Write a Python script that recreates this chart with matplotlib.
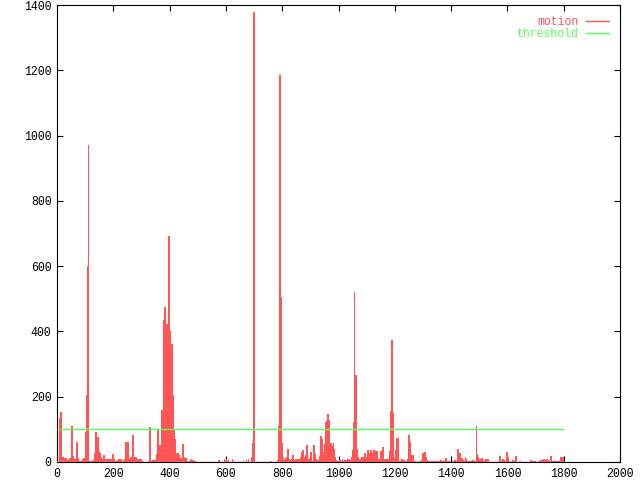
import matplotlib
matplotlib.use("Agg")
import matplotlib.pyplot as plt
from matplotlib.lines import Line2D

# motion values per frame
frames = [0, 11, 14, 18, 21, 25, 28, 32, 36, 39, 43, 46, 50, 53, 57, 60, 64, 68, 71, 75,
          78, 82, 85, 89, 92, 96, 100, 103, 107, 110, 113, 117, 121, 124, 128, 131, 135, 139,
          142, 146, 149, 153, 156, 160, 163, 167, 171, 174, 178, 181, 185, 188, 192, 195,
          199, 203, 206, 210, 213, 217, 220, 224, 227, 231, 235, 238, 242, 245, 249, 252,
          256, 259, 263, 266, 270, 274, 277, 281, 284, 288, 291, 295, 298, 302,
          330, 334, 337, 341, 348, 352, 355,
          359, 362, 366, 370, 373, 377, 380, 384, 387, 391, 394, 398, 401, 405, 409, 412,
          416, 419, 423, 426, 430, 433, 437, 441, 444, 448, 451, 455, 458,
          462, 472, 476, 479, 483, 487, 490,
          576, 594, 597, 601, 604, 608, 623, 627, 662, 673, 680, 690, 694, 697, 700,
          760, 785, 788, 792, 796, 799, 803, 806, 810, 813, 817, 821, 824, 828, 831, 835,
          838, 842, 845, 849, 852, 856, 860, 863, 867, 870, 874, 877, 881, 884, 888, 891,
          895, 899, 902, 906, 910, 913, 917, 920, 924, 927, 931, 934, 938, 942, 945, 949,
          952, 956, 959, 963, 966, 970, 973, 977, 981, 984, 988, 991, 995, 998,
          1005, 1009, 1013, 1016, 1020, 1023, 1027, 1030, 1034, 1037, 1041, 1044, 1048,
          1051, 1055, 1058, 1062, 1066, 1069, 1073, 1076, 1080, 1083, 1087, 1090, 1094,
          1098, 1101, 1105, 1108, 1112, 1115, 1119, 1122, 1126, 1130, 1133, 1137, 1140,
          1144, 1148, 1151, 1155, 1158, 1162, 1165, 1169, 1173, 1176, 1180, 1183, 1187,
          1190, 1194, 1197, 1204, 1208, 1212, 1215, 1222, 1226, 1229, 1233, 1236, 1240,
          1247, 1250, 1254, 1258, 1261, 1265, 1269, 1272, 1290, 1297, 1300, 1304, 1307,
          1311, 1314, 1318, 1325, 1332, 1339, 1346, 1354, 1361, 1364, 1371, 1375, 1382,
          1386, 1390, 1393, 1407, 1414, 1418, 1421, 1425, 1429, 1432, 1435, 1439, 1442,
          1446, 1450, 1453, 1457, 1464, 1471, 1478, 1481, 1485, 1489, 1492, 1496, 1499,
          1503, 1506, 1510, 1513, 1517, 1520, 1524, 1527, 1531, 1574, 1577, 1581, 1584,
          1588, 1591, 1595, 1599, 1602, 1606, 1620, 1627, 1631, 1645, 1684, 1688, 1691,
          1694, 1698, 1701, 1712, 1719, 1723, 1730, 1734, 1737, 1741, 1744, 1751, 1755,
          1758, 1762, 1765, 1769, 1773, 1780, 1783, 1787, 1790, 1794, 1797, 1801]
motion = [4, 134, 153, 16, 16, 12, 12, 12, 6, 6, 6, 12, 6, 110, 18, 8, 8, 8, 61, 12,
          4, 4, 4, 4, 8, 12, 26, 92, 205, 600, 970, 4, 4, 4, 4, 6, 29, 92,
          71, 78, 33, 27, 14, 4, 8, 22, 4, 8, 6, 10, 4, 8, 10, 6,
          24, 8, 4, 4, 4, 6, 10, 4, 10, 4, 4, 6, 8, 62, 62, 62,
          8, 4, 14, 8, 84, 16, 8, 14, 10, 4, 8, 4, 10, 4,
          108, 4, 4, 6, 6, 4, 26,
          100, 52, 52, 96, 159, 150, 435, 474, 337, 423, 230, 693, 402, 240, 361, 205,
          98, 69, 27, 24, 29, 20, 12, 8, 12, 55, 16, 6, 12,
          4, 4, 6, 8, 6, 4, 4,
          6, 8, 6, 10, 4, 6, 10, 4, 4, 6, 10, 16, 57, 250, 1380,
          4, 6, 110, 1185, 505, 59, 14, 6, 4, 12, 16, 40, 10, 4, 6, 10,
          21, 6, 4, 8, 10, 8, 6, 10, 14, 31, 37, 14, 6, 22, 51, 14,
          8, 12, 31, 4, 12, 53, 24, 10, 4, 6, 6, 18, 80, 71, 14, 31,
          55, 123, 126, 147, 130, 47, 59, 49, 59, 41, 14, 6, 4, 2,
          6, 4, 8, 4, 2, 6, 2, 6, 10, 8, 4, 6, 14,
          37, 123, 520, 265, 39, 14, 6, 10, 10, 14, 6, 14, 27,
          10, 16, 37, 27, 18, 37, 27, 6, 37, 12, 33, 35, 6,
          8, 10, 35, 10, 45, 8, 10, 10, 6, 10, 6, 35, 157,
          375, 151, 12, 37, 73, 73, 4, 4, 8, 6, 6, 4, 4,
          8, 82, 61, 6, 20, 22, 4, 4, 4, 6, 27, 6, 31,
          14, 6, 4, 4, 4, 4, 4, 4, 4, 6, 4, 4, 12,
          4, 4, 4, 4, 6, 4, 4, 39, 12, 27, 4, 12, 6,
          4, 14, 8, 4, 4, 4, 6, 4, 4, 110, 24, 14, 6,
          8, 6, 12, 4, 4, 6, 8, 10, 8, 18, 4, 4, 8,
          6, 4, 4, 31, 14, 4, 6, 4, 18, 4, 6, 4, 4,
          4, 4, 4, 4, 6, 6, 8, 4, 6, 8, 6, 4, 18,
          4, 4, 4, 4, 4, 4, 4, 4, 16, 10, 16, 4]
threshold_value = 100
x_ticks = [0, 200, 400, 600, 800, 1000, 1200, 1400, 1600, 1800, 2000]
y_ticks = [0, 200, 400, 600, 800, 1000, 1200, 1400]

RED = "#ff5555"
GREEN = "#55ff55"
FONT = "Liberation Mono"

fig = plt.figure(figsize=(6.4, 4.8), dpi=100)
ax = fig.add_axes([57 / 640, 18 / 480, 563 / 640, 457 / 480])

ax.bar(frames, motion, width=4.6, color=RED, linewidth=0, antialiased=False,
       align="center", zorder=3)
ax.plot([frames[0], frames[-1]], [0, 0], color=RED, linewidth=1.0, zorder=4,
        solid_capstyle="butt", snap=True)
ax.plot([frames[0], frames[-1]], [threshold_value, threshold_value], color=GREEN,
        linewidth=1.0, zorder=4, solid_capstyle="butt", snap=True)

ax.set_xlim(x_ticks[0], x_ticks[-1])
ax.set_ylim(y_ticks[0], y_ticks[-1])
ax.set_xticks(x_ticks)
ax.set_yticks(y_ticks)
ax.tick_params(direction="in", length=4, width=0.8, top=True, right=True,
               labelsize=8.3, pad=4, colors="black")
for lab in ax.get_xticklabels() + ax.get_yticklabels():
    lab.set_fontfamily(FONT)
for s in ax.spines.values():
    s.set_linewidth(0.8)
    s.set_zorder(2)

handles = [Line2D([], [], color=RED, lw=1.0), Line2D([], [], color=GREEN, lw=1.0)]
leg = ax.legend(handles, ["motion", "threshold"], loc="upper right",
                frameon=False, markerfirst=False, handlelength=2.0,
                handletextpad=0.6, labelspacing=0.0, borderaxespad=0.56,
                prop={"family": FONT, "size": 8.3})
for txt, c in zip(leg.get_texts(), [RED, GREEN]):
    txt.set_color(c)

fig.savefig("out.png", dpi=100)
